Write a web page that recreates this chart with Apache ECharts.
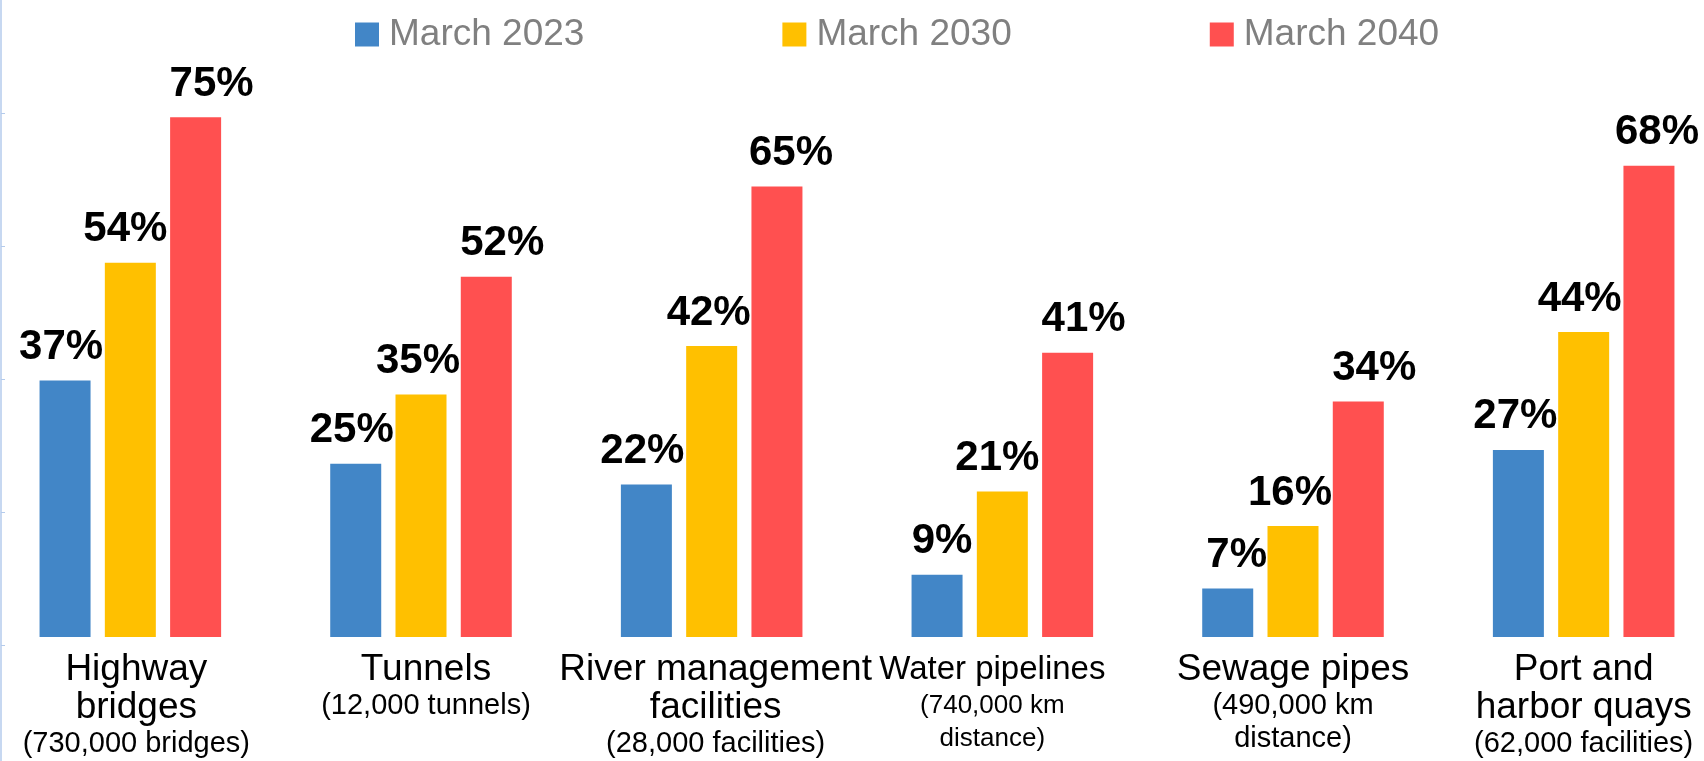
<!DOCTYPE html>
<html>
<head>
<meta charset="utf-8">
<script src="https://cdn.jsdelivr.net/npm/echarts@6/dist/echarts.min.js"></script>
<style>
html,body{margin:0;padding:0;background:#fff;}
#chart{width:1704px;height:761px;}
</style>
</head>
<body>
<div id="chart"></div>
<script>
// ---- data ----
const categoryNames = ['Highway\nbridges', 'Tunnels', 'River management\nfacilities', 'Water pipelines', 'Sewage pipes', 'Port and\nharbor quays'];
const categoryNotes = ['(730,000 bridges)', '(12,000 tunnels)', '(28,000 facilities)', '(740,000 km\ndistance)', '(490,000 km\ndistance)', '(62,000 facilities)'];
const seriesNames = ['March 2023', 'March 2030', 'March 2040'];
const march2023 = [37, 25, 22, 9, 7, 27];
const march2030 = [54, 35, 42, 21, 16, 44];
const march2040 = [75, 52, 65, 41, 34, 68];

// ---- styles ----
const FONT = "'Liberation Sans', Arial, sans-serif";
const colors = ['#4286C7', '#FFC000', '#FF5050'];
const labelShift = [
  [-4, -4, -4, 5, 9, -3],
  [-5, -3, -3, -5, -3, -4],
  [16, 16, 14, 16, 16, 8]
];
const catLabelShift = [6, 5, 4, -10, 0, 0];
const catLabelScale = [1, 1, 1, 0.9, 1, 1];

const categories = categoryNames.map((n, i) => i + '||' + n + '||' + categoryNotes[i]);

const rich = {};
catLabelShift.forEach((s, i) => {
  const pad = s >= 0 ? [0, 0, 0, 2 * s] : [0, -2 * s, 0, 0];
  rich['a' + i] = { fontFamily: FONT, fontSize: Math.round(37 * catLabelScale[i]), lineHeight: 38, color: '#000', padding: pad };
  rich['b' + i] = { fontFamily: FONT, fontSize: Math.round(29 * catLabelScale[i]), lineHeight: 33, color: '#000', padding: pad };
});

function makeSeries(name, values, idx) {
  return {
    name: name,
    type: 'bar',
    barWidth: 51,
    barGap: '28%',
    itemStyle: { color: colors[idx] },
    data: values.map((v, i) => ({
      value: v,
      label: { offset: [labelShift[idx][i], 0] }
    })),
    label: {
      show: true,
      position: 'top',
      distance: 12,
      formatter: '{c}%',
      fontFamily: FONT,
      fontSize: 42,
      fontWeight: 'bold',
      color: '#000'
    }
  };
}

const chart = echarts.init(document.getElementById('chart'), null, { renderer: 'canvas' });
chart.setOption({
  animation: false,
  backgroundColor: '#fff',
  legend: {
    left: 355,
    top: 16,
    padding: 0,
    itemWidth: 24,
    itemHeight: 24,
    itemGap: 198,
    icon: 'rect',
    data: seriesNames,
    textStyle: { fontFamily: FONT, fontSize: 37, color: '#808080', padding: [0, 0, 0, 5] }
  },
  grid: [
    { left: -15, right: -25, top: 82.6, bottom: 124, containLabel: false, outerBoundsMode: 'none' },
    { left: 1, width: 10, top: -20, bottom: -17, containLabel: false, outerBoundsMode: 'none' }
  ],
  xAxis: [
    {
      type: 'category',
      gridIndex: 0,
      data: categories,
      axisLine: { show: false },
      axisTick: { show: false },
      axisLabel: {
        interval: 0,
        margin: 14,
        hideOverlap: false,
        formatter: function (val) {
          const parts = val.split('||');
          const k = parts[0];
          const big = parts[1].split('\n').map(s => '{a' + k + '|' + s + '}');
          const small = parts[2].split('\n').map(s => '{b' + k + '|' + s + '}');
          return big.concat(small).join('\n');
        },
        rich: rich
      }
    },
    { type: 'category', gridIndex: 1, show: false, data: ['x'] }
  ],
  yAxis: [
    { type: 'value', gridIndex: 0, min: 0, max: 80, show: false, splitLine: { show: false } },
    {
      type: 'value', gridIndex: 1, min: 0, max: 6, interval: 1,
      axisLine: { show: true, lineStyle: { color: '#B4CBEC', width: 1.5 } },
      axisTick: { show: true, inside: true, length: 4, lineStyle: { color: '#B4CBEC' } },
      axisLabel: { show: false },
      splitLine: { show: false }
    }
  ],
  series: [
    makeSeries(seriesNames[0], march2023, 0),
    makeSeries(seriesNames[1], march2030, 1),
    makeSeries(seriesNames[2], march2040, 2)
  ]
});
</script>
</body>
</html>
